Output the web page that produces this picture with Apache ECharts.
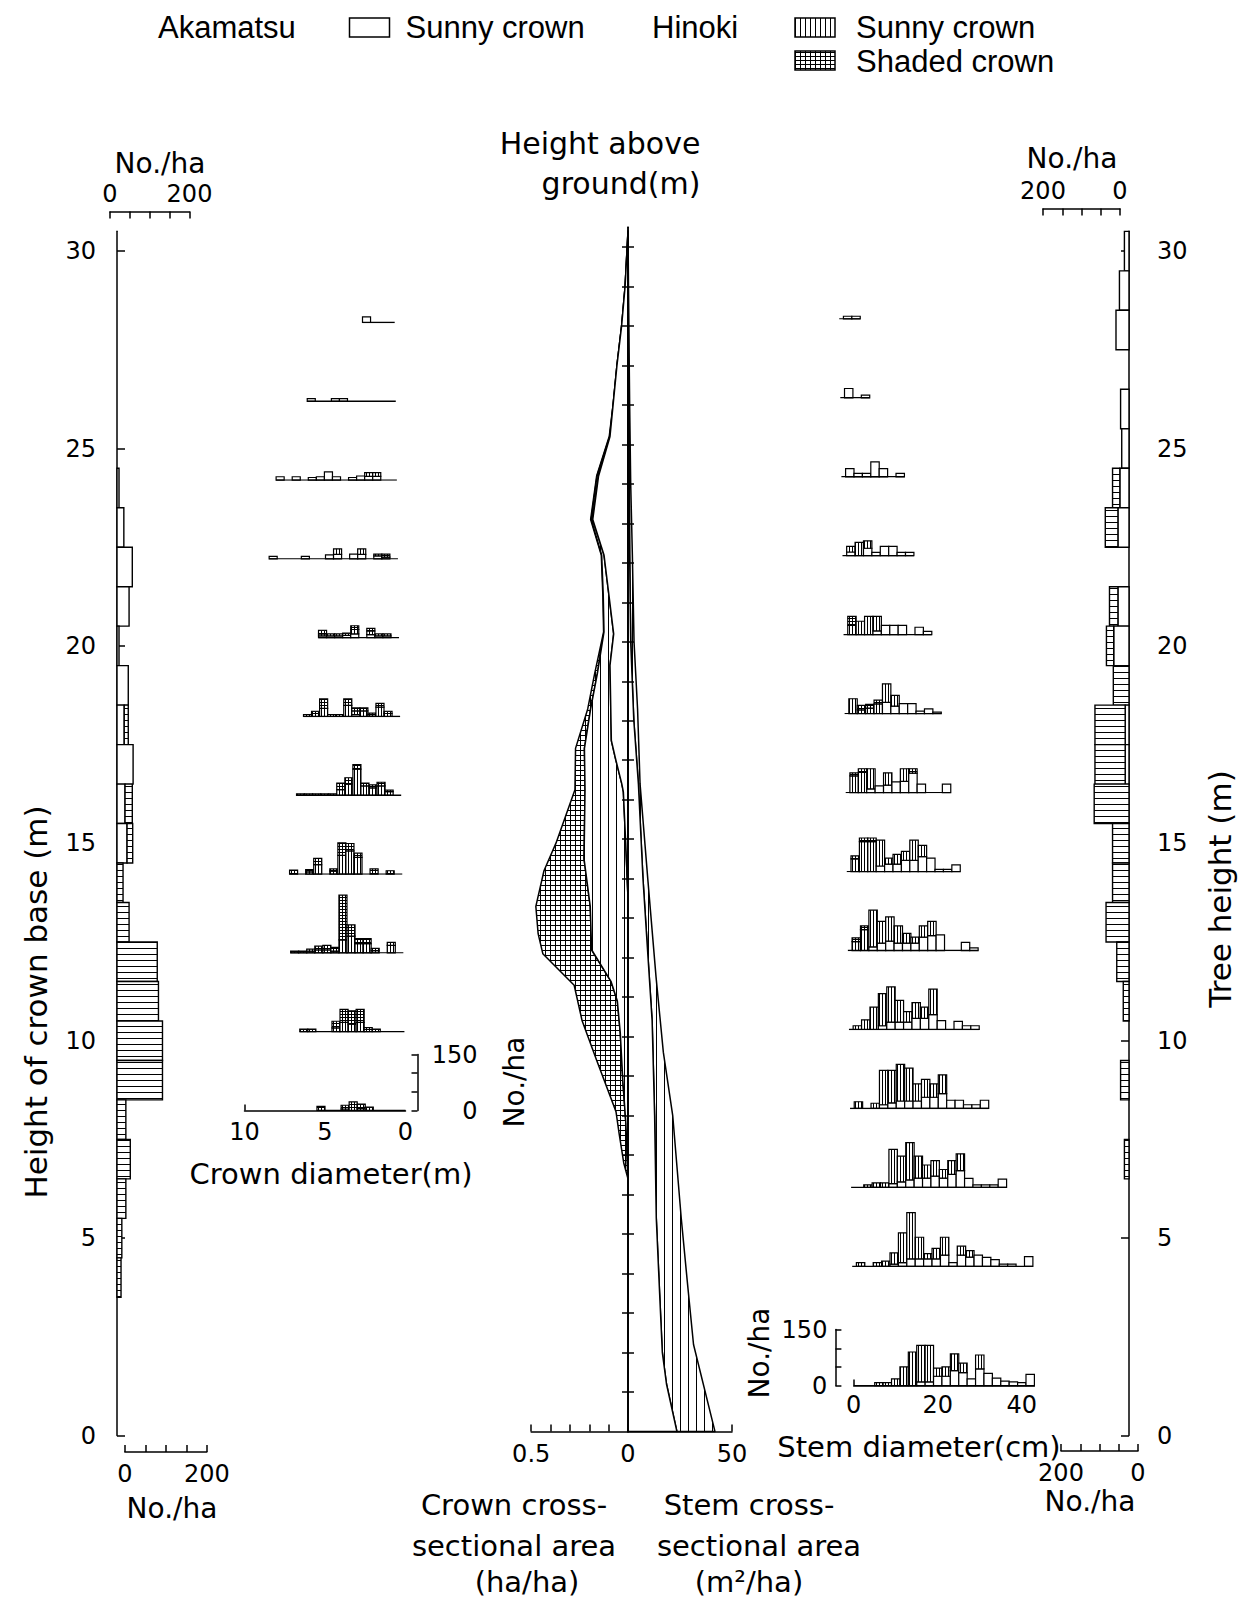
<!DOCTYPE html>
<html><head><meta charset="utf-8">
<script src="https://cdn.jsdelivr.net/npm/echarts@6/dist/echarts.min.js"></script>
<style>html,body{margin:0;padding:0;background:#fff}#c{width:1248px;height:1598px}</style>
</head><body><div id="c"></div>
<script>
// ================= DATA =================
// Left panel: height of crown base (1 m classes), No./ha
const crownBaseHeight   = [24,23,22,21,20,19,18,17,16,15,14,13,12,11,10,9,8,7,6,5,4];
const crownBaseAkamatsu = [5,17,38,30,5,28,18,40,20,25,0,0,0,0,0,0,0,0,0,0,0];
const crownBaseHinoki   = [0,0,0,0,0,0,10,0,18,14,15,30,100,103,113,113,22,33,22,12,10];

// Right panel: tree height (1 m classes), No./ha
const treeHeight         = [30,29,28,27,26,25,24,23,22,21,20,19,18,17,16,15,14,13,12,11,10,9,8,7];
const treeHeightAkamatsu = [12,25,34,0,22,19,24,29,0,29,40,0,10,10,0,0,0,0,0,0,0,0,0,0];
const treeHeightHinoki   = [0,0,0,0,0,0,19,33,0,22,19,41,79,79,91,43,43,60,32,15,0,22,0,12];

// Crown diameter distributions at each height level: [diameter class (m), Akamatsu, Hinoki sunny, Hinoki shaded] No./ha
const crownLevels = [28,26,24,22,20,18,16,14,12,10,8];
const crownDiam28 = [[1.75,15,0,0]];
const crownDiam26 = [[5.25,7,0,0],[3.75,7,0,0],[3.25,7,0,0]];
const crownDiam24 = [[7.25,9,0,0],[6.25,9,0,0],[5.25,7,0,0],[4.75,9,0,0],[4.25,22,0,0],[3.75,9,0,0],[2.75,7,0,0],[2.25,11,0,0],[1.75,10,10,0],[1.25,10,10,0]];
const crownDiam22 = [[7.75,7,0,0],[5.75,7,0,0],[4.25,11,0,0],[3.75,12,15,0],[2.75,13,0,0],[2.25,12,15,0],[1.25,8,5,0],[0.75,5,0,8]];
const crownDiam20 = [[4.75,5,5,10],[4.25,5,0,5],[3.75,5,0,5],[3.25,6,0,6],[2.75,10,12,10],[1.75,8,10,7],[1.25,5,0,5],[0.75,5,0,5]];
const crownDiam18 = [[5.75,0,0,5],[5.25,0,8,6],[4.75,0,22,25],[4.25,0,0,5],[3.75,0,0,5],[3.25,0,30,17],[2.75,5,10,8],[2.25,0,15,8],[1.75,0,5,4],[1.25,0,25,10],[0.75,0,8,6]];
const crownDiam16 = [[6.25,0,0,4],[5.75,0,0,4],[5.25,0,0,4],[4.75,0,0,4],[4.25,0,0,4],[3.75,0,15,18],[3.25,0,30,17],[2.75,0,70,12],[2.25,0,25,8],[1.75,0,20,8],[1.25,0,25,10],[0.75,0,10,4]];
const crownDiam14 = [[6.75,0,0,11],[5.75,0,6,6],[5.25,0,25,17],[4.25,0,8,6],[3.75,0,50,34],[3.25,0,62,20],[2.75,0,45,11],[1.75,0,0,14],[0.75,0,0,9]];
const crownDiam12 = [[6.75,0,0,5],[6.25,0,0,5],[5.75,0,5,5],[5.25,0,8,10],[4.75,0,8,12],[4.25,0,5,10],[3.75,0,35,120],[3.25,0,45,30],[2.75,0,25,13],[2.25,0,25,13],[1.75,0,6,6],[0.75,0,20,8]];
const crownDiam10 = [[6.25,0,0,7],[5.75,0,0,7],[4.25,0,10,18],[3.75,0,25,35],[3.25,0,20,36],[2.75,0,25,35],[2.25,0,0,11],[1.75,0,0,7]];
const crownDiam8  = [[5.25,0,0,11],[3.75,0,4,10],[3.25,0,8,15],[2.75,0,5,12],[2.25,0,0,9]];
const crownDiamTicks = [0,5,10];

// Stem diameter distributions at each height level: [diameter class (cm), Akamatsu, Hinoki sunny, Hinoki shaded] No./ha
const stemLevels = [28,26,24,22,20,18,16,14,12,10,8,6,4,1.2];
const stemDiam28 = [[2,7,0,0],[4,7,0,0]];
const stemDiam26 = [[2,25,0,0],[6,7,0,0]];
const stemDiam24 = [[2,22,0,0],[4,9,0,0],[6,9,0,0],[8,40,0,0],[10,22,0,0],[14,9,0,0]];
const stemDiam22 = [[2,10,15,0],[4,0,36,0],[6,20,20,0],[8,9,0,0],[10,25,0,0],[12,25,0,0],[14,9,0,0],[16,9,0,0]];
const stemDiam20 = [[2,0,25,24],[4,0,36,0],[6,0,49,0],[8,10,39,0],[10,25,0,0],[12,25,0,0],[14,25,0,0],[18,20,0,0],[20,9,0,0]];
const stemDiam18 = [[2,0,40,0],[4,0,10,12],[6,0,15,10],[8,0,26,10],[10,30,50,0],[12,20,29,0],[14,27,0,0],[16,27,0,0],[18,7,0,0],[20,13,0,0],[22,4,0,0]];
const stemDiam16 = [[2,0,45,8],[4,0,54,10],[6,10,54,0],[8,18,0,0],[10,20,33,0],[12,29,0,0],[14,30,34,0],[16,52,0,12],[18,23,0,0],[24,23,0,0]];
const stemDiam14 = [[2,0,34,8],[4,0,80,10],[6,0,80,10],[8,15,69,0],[10,20,16,0],[12,20,26,0],[14,30,24,0],[16,30,54,0],[18,40,30,0],[20,36,0,0],[22,6,0,0],[24,6,0,0],[26,18,0,0]];
const stemDiam12 = [[2,0,24,10],[4,0,56,10],[6,10,98,0],[8,20,58,0],[10,25,65,0],[12,20,46,0],[14,20,26,0],[16,20,16,0],[18,36,30,0],[20,40,38,0],[22,42,0,0],[28,22,0,0],[30,7,0,0]];
const stemDiam10 = [[2,0,10,0],[4,0,26,0],[6,0,60,0],[8,10,86,0],[10,20,94,0],[12,20,58,0],[14,20,28,0],[16,30,42,0],[18,30,30,0],[20,40,68,0],[22,24,0,0],[26,22,0,0],[28,10,0,0],[30,10,0,0]];
const stemDiam8  = [[2,0,18,0],[6,0,14,0],[8,10,92,0],[10,15,87,0],[12,20,98,0],[14,20,88,0],[16,20,46,0],[18,30,48,0],[20,30,36,0],[22,40,50,0],[24,22,0,0],[26,22,0,0],[28,10,0,0],[30,10,0,0],[32,22,0,0]];
const stemDiam6  = [[4,0,7,0],[6,0,12,0],[8,0,12,0],[10,10,92,0],[12,15,69,0],[14,20,100,0],[16,25,59,0],[18,25,35,0],[20,30,42,0],[22,25,23,0],[24,35,37,0],[26,45,45,0],[28,24,0,0],[30,7,0,0],[32,7,0,0],[34,7,0,0],[36,22,0,0]];
const stemDiam4  = [[2,0,10,0],[6,0,10,0],[8,0,14,0],[10,6,30,0],[12,10,80,0],[14,20,124,0],[16,20,58,0],[18,20,14,0],[20,20,28,0],[22,30,48,0],[24,10,0,0],[26,30,24,0],[28,25,17,0],[30,30,0,0],[32,24,0,0],[34,18,0,0],[36,6,0,0],[38,6,0,0],[42,26,0,0]];
const stemDiam1_2= [[6,0,8,0],[8,0,8,0],[10,0,18,0],[12,0,50,0],[14,0,90,0],[16,10,98,0],[18,10,98,0],[20,25,22,0],[22,25,25,0],[24,40,45,0],[26,35,25,0],[28,18,0,0],[30,45,37,0],[32,33,0,0],[34,20,0,0],[36,12,0,0],[38,10,0,0],[40,8,0,0],[42,30,0,0]];
const stemDiamTicks = [0,20,40];

// Centre: cumulative crown cross-sectional area (ha/ha) vs height [height m, value]
const crownAreaAkamatsu = [[30.4,0],[29,0.015],[28,0.033],[27,0.057],[26,0.077],[25.2,0.093],[24.2,0.152],[23.1,0.182],[22.2,0.124],[20.2,0.074],[19.4,0.093],[17.5,0.086],[17.05,0.065],[16.4,0.032],[16.2,0.024],[14.7,0.01],[13.5,0]];
const crownAreaToSunny  = [[30.4,0],[29,0.015],[28,0.033],[27,0.057],[26,0.077],[25.2,0.095],[24.2,0.16],[23.1,0.19],[22.2,0.136],[21.2,0.128],[20.25,0.124],[19.2,0.158],[18.3,0.193],[17.3,0.225],[16.25,0.222],[14.5,0.227],[13.3,0.195],[12.2,0.188],[11.4,0.088],[10.9,0.055],[10.1,0.04],[8.9,0.027],[7.8,0.011],[6.4,0]];
const crownAreaTotal    = [[30.4,0],[29,0.015],[28,0.033],[27,0.057],[26,0.077],[25.2,0.097],[24.2,0.162],[23.1,0.193],[22.2,0.138],[21.2,0.13],[20.25,0.126],[19.2,0.172],[18.3,0.208],[17.3,0.271],[16.25,0.274],[14.9,0.372],[14.2,0.434],[13.3,0.476],[12.6,0.464],[12.1,0.44],[11.3,0.278],[10.4,0.237],[9.4,0.162],[8.1,0.062],[7.55,0.046],[6.8,0.022],[6.4,0]];
// Centre: cumulative stem cross-sectional area (m2/ha) vs height
const stemAreaAkamatsu = [[30.4,0],[28,0.2],[26,0.4],[24,0.6],[22.2,0.8],[20,1.3],[18,2.8],[16.4,5.0],[14,7.2],[12.6,8.9],[10.4,11.6],[8,12.8],[5.4,13.6],[3.5,15.2],[2,16.5],[1.2,18.5],[0,23.5]];
const stemAreaTotal    = [[30.4,0],[28,0.4],[26,0.8],[24,1.3],[22.2,2.1],[20,2.9],[18.3,4.6],[16.4,5.8],[14,9.5],[11.5,13.5],[9.6,17],[8,21.5],[5.4,25.6],[3.8,28.5],[2.2,31.5],[0,41.8]];

const heightTicks = [0,5,10,15,20,25,30];
const countTicks = [0,50,100,150,200];

// ================= STYLE / LAYOUT =================
function pat(w, h, draw) {
  const c = document.createElement('canvas'); c.width = w; c.height = h;
  const x = c.getContext('2d'); x.fillStyle = '#fff'; x.fillRect(0, 0, w, h); x.fillStyle = '#000'; draw(x, w, h);
  return {image: c.toDataURL('image/png'), repeat: 'repeat', imageWidth: w, imageHeight: h};
}
const P = {
  vHist: pat(3, 3, (x, w, h) => x.fillRect(0, 0, 1, h)),
  gHist: pat(3, 3, (x, w, h) => { x.fillRect(0, 0, 1, h); x.fillRect(0, 0, w, 1); }),
  hSide: pat(6, 6, (x, w, h) => x.fillRect(0, 0, w, 1)),
  vCenter: pat(8, 8, (x, w, h) => x.fillRect(0, 0, 1, h)),
  gCenter: pat(5, 5, (x, w, h) => { x.fillRect(0, 0, 1, h); x.fillRect(0, 0, w, 1); }),
  vLegend: pat(5, 5, (x, w, h) => x.fillRect(0, 0, 1, h)),
  gLegend: pat(5, 4, (x, w, h) => { x.fillRect(0, 0, 1, h); x.fillRect(0, 0, w, 1); })
};
const FONT = "'DejaVu Sans'";
const LS = {color: '#000', width: 1.5};
const LBL = {color: '#000', fontFamily: 'DejaVu Sans', fontSize: 24};
const PXM = 39.48, Y0 = 1435.5, HMAX = 30.5;
const MAIN_H = HMAX * PXM, MAIN_TOP = Y0 - MAIN_H;

const grids = [], xAxes = [], yAxes = [], series = [];
function addGrid(rect, xa, ya) {
  const i = grids.length;
  grids.push(rect);
  xAxes.push(Object.assign({type: 'value', gridIndex: i, splitLine: {show: false}}, xa));
  yAxes.push(Object.assign({type: 'value', gridIndex: i, splitLine: {show: false}}, ya));
  return i;
}
function axLine() { return {show: true, onZero: false, lineStyle: LS}; }
function ticks(vals, len) { return {show: true, inside: true, length: len, lineStyle: LS, customValues: vals}; }
function labels(vals, margin, extra) { return Object.assign({show: true, margin: margin, customValues: vals}, LBL, extra || {}); }

// ---- side panels ----
function sideRender(hatch) {
  return function (params, api) {
    const h = api.value(0), a = api.value(1), n = api.value(2);
    const yT = api.coord([0, h + 0.5])[1], yB = api.coord([0, h - 0.5])[1];
    const x0 = api.coord([0, h])[0], xa = api.coord([a, h])[0], xn = api.coord([a + n, h])[0];
    const ch = [];
    if (a > 0) ch.push({type: 'rect', shape: {x: Math.min(x0, xa), y: yT, width: Math.abs(xa - x0), height: yB - yT}, style: {fill: '#fff', stroke: '#000', lineWidth: 1.4}});
    if (n > 0) ch.push({type: 'rect', shape: {x: Math.min(xa, xn), y: yT, width: Math.abs(xn - xa), height: yB - yT}, style: {fill: hatch, stroke: '#000', lineWidth: 1.4}});
    return {type: 'group', children: ch};
  };
}
const gL = addGrid({left: 117, top: MAIN_TOP, width: 80.5, height: MAIN_H},
  {min: 0, max: 200, show: false},
  {min: 0, max: HMAX, position: 'left', axisLine: axLine(), axisTick: ticks(heightTicks, 8), axisLabel: labels(heightTicks, 21)});
addGrid({left: 110, top: 211.5, width: 79.5, height: 1},
  {min: 0, max: 200, position: 'top', axisLine: axLine(), axisTick: ticks(countTicks, 7), axisLabel: labels([0, 200], 6)},
  {min: 0, max: 1, show: false});
addGrid({left: 124.8, top: 1451, width: 82, height: 1},
  {min: 0, max: 200, position: 'bottom', axisLine: axLine(), axisTick: ticks(countTicks, 7), axisLabel: labels([0, 200], 10)},
  {min: 0, max: 1, show: false});
series.push({type: 'custom', xAxisIndex: gL, yAxisIndex: gL, renderItem: sideRender(P.hSide), silent: true,
  data: crownBaseHeight.map((h, i) => [h, crownBaseAkamatsu[i], crownBaseHinoki[i]])});

const gR = addGrid({left: 1052.5, top: MAIN_TOP, width: 76.5, height: MAIN_H},
  {min: 0, max: 200, inverse: true, show: false},
  {min: 0, max: HMAX, position: 'right', axisLine: axLine(), axisTick: ticks(heightTicks, 8), axisLabel: labels(heightTicks, 28)});
addGrid({left: 1043, top: 208.5, width: 77, height: 1},
  {min: 0, max: 200, inverse: true, position: 'top', axisLine: axLine(), axisTick: ticks(countTicks, 7), axisLabel: labels([0, 200], 6)},
  {min: 0, max: 1, show: false});
addGrid({left: 1061, top: 1450, width: 77, height: 1},
  {min: 0, max: 200, inverse: true, position: 'bottom', axisLine: axLine(), axisTick: ticks(countTicks, 7), axisLabel: labels([0, 200], 10)},
  {min: 0, max: 1, show: false});
series.push({type: 'custom', xAxisIndex: gR, yAxisIndex: gR, renderItem: sideRender(P.hSide), silent: true,
  data: treeHeight.map((h, i) => [h, treeHeightAkamatsu[i], treeHeightHinoki[i]])});

// ---- small histograms ----
function histRender(half) {
  const fills = ['#fff', P.vHist, P.gHist];
  return function (params, api) {
    const d = api.value(0);
    const xa = api.coord([d - half, 0])[0], xb = api.coord([d + half, 0])[0];
    const x = Math.min(xa, xb), w = Math.abs(xb - xa);
    const ch = [];
    let cum = 0;
    for (let k = 0; k < 3; k++) {
      const v = api.value(k + 1);
      if (!(v > 0)) continue;
      const y1 = api.coord([d, cum + v])[1], y0 = api.coord([d, cum])[1];
      ch.push({type: 'rect', shape: {x: x, y: y1, width: w, height: y0 - y1}, style: {fill: fills[k], stroke: '#000', lineWidth: 1.2}});
      cum += v;
    }
    return {type: 'group', children: ch};
  };
}
function addHist(g, data, half) {
  const ext = Math.max.apply(null, data.map(r => r[0])) + half;
  series.push({type: 'line', xAxisIndex: g, yAxisIndex: g, data: [[0, 0], [ext, 0]], symbol: 'none', silent: true, lineStyle: {color: '#000', width: 1.4}});
  series.push({type: 'custom', xAxisIndex: g, yAxisIndex: g, renderItem: histRender(half), data: data, silent: true});
}
const crownData = [crownDiam28, crownDiam26, crownDiam24, crownDiam22, crownDiam20, crownDiam18, crownDiam16, crownDiam14, crownDiam12, crownDiam10, crownDiam8];
crownLevels.forEach((h, k) => {
  const base = 1425.7 - h * 39.4, x0 = 405.5 - 0.54 * (h - 8);
  const last = k === crownLevels.length - 1;
  const g = addGrid({left: x0 - 161, top: base - 56, width: 161, height: 56},
    last ? {min: 0, max: 10, inverse: true, position: 'bottom', axisLine: axLine(), axisTick: ticks([10], 6), axisLabel: labels(crownDiamTicks, 9)}
         : {min: 0, max: 10, inverse: true, show: false},
    last ? {min: 0, max: 150, position: 'right', offset: 12, axisLine: axLine(), axisTick: ticks([0, 50, 100, 150], 6), axisLabel: labels([0, 150], 60, {align: 'right'})}
         : {min: 0, max: 150, show: false});
  addHist(g, crownData[k], 0.25);
});
const stemData = [stemDiam28, stemDiam26, stemDiam24, stemDiam22, stemDiam20, stemDiam18, stemDiam16, stemDiam14, stemDiam12, stemDiam10, stemDiam8, stemDiam6, stemDiam4, stemDiam1_2];
stemLevels.forEach((h, k) => {
  const base = h < 2 ? 1385.6 : 1424.3 - h * 39.48, x0 = 853.7 - 0.54 * (h - 1.2);
  const last = k === stemLevels.length - 1;
  const g = addGrid({left: x0, top: base - 56, width: 180.7, height: 56},
    last ? {min: 0, max: 43, position: 'bottom', axisLine: axLine(), axisTick: ticks([0], 6), axisLabel: labels(stemDiamTicks, 7)}
         : {min: 0, max: 43, show: false},
    last ? {min: 0, max: 150, position: 'left', offset: 18.3, axisLine: axLine(), axisTick: ticks([0, 50, 100, 150], 6), axisLabel: labels([0, 150], 8)}
         : {min: 0, max: 150, show: false});
  addHist(g, stemData[k], 1);
});

// ---- centre panel ----
const centerTicks = Array.from({length: 30}, (_, i) => i + 1);
const AXIS_X = 628, C_TOP = 1431.4 - MAIN_H;
const gCL = addGrid({left: AXIS_X - 96.8, top: C_TOP, width: 96.8, height: MAIN_H},
  {min: 0, max: 0.5, inverse: true, position: 'bottom', axisLine: axLine(), axisTick: ticks([0, 0.1, 0.2, 0.3, 0.4, 0.5], 7), axisLabel: labels([0, 0.5], 11)},
  {min: 0, max: HMAX, position: 'right', z: 10, axisLine: axLine(), axisTick: ticks(centerTicks, 6), axisLabel: {show: false}});
const gCR = addGrid({left: AXIS_X, top: C_TOP, width: 104, height: MAIN_H},
  {min: 0, max: 50, position: 'bottom', axisLine: axLine(), axisTick: ticks([0, 10, 20, 30, 40, 50], 7), axisLabel: labels([50], 11)},
  {min: 0, max: HMAX, position: 'left', z: 10, axisLine: axLine(), axisTick: ticks(centerTicks, 6), axisLabel: {show: false}});
function axisOf(curve) { return [[curve[0][0], 0], [curve[curve.length - 1][0], 0]]; }
function polyRender(outer, inner, fill) {
  return function (params, api) {
    const pts = outer.map(p => api.coord([p[1], p[0]]));
    inner.slice().reverse().forEach(p => pts.push(api.coord([p[1], p[0]])));
    return {type: 'polygon', shape: {points: pts}, style: {fill: fill, stroke: '#000', lineWidth: 1.5, lineJoin: 'round'}};
  };
}
function addPoly(g, outer, inner, fill) {
  series.push({type: 'custom', xAxisIndex: g, yAxisIndex: g, silent: true, data: [[0, 0]], renderItem: polyRender(outer, inner, fill)});
}
addPoly(gCL, crownAreaTotal, crownAreaToSunny, P.gCenter);
addPoly(gCL, crownAreaToSunny, crownAreaAkamatsu, P.vCenter);
addPoly(gCL, crownAreaAkamatsu, axisOf(crownAreaAkamatsu), '#fff');
addPoly(gCR, stemAreaTotal, stemAreaAkamatsu, P.vCenter);
addPoly(gCR, stemAreaAkamatsu, axisOf(stemAreaAkamatsu), '#fff');

// ---- texts ----
function T(text, x, y, size, o) {
  o = o || {};
  const al = o.align || 'center';
  return {type: 'text', x: x, y: y, rotation: o.rot || 0, silent: true,
    style: {text: text, x: 0, y: 0, fill: '#000', font: size + 'px ' + (o.family || FONT), textAlign: al, align: al, textVerticalAlign: 'middle', verticalAlign: 'middle'}};
}
const LEG = "'Liberation Sans'";
const R = (x, y, w, h, fill) => ({type: 'rect', silent: true, shape: {x: x, y: y, width: w, height: h}, style: {fill: fill, stroke: '#000', lineWidth: 1.5}});
const graphics = [
  T('Akamatsu', 158, 27, 31, {align: 'left', family: LEG}),
  R(349.5, 18, 40, 19, '#fff'),
  T('Sunny crown', 405.5, 27, 31, {align: 'left', family: LEG}),
  T('Hinoki', 652, 27, 31, {align: 'left', family: LEG}),
  R(795, 18, 40, 19, P.vLegend),
  T('Sunny crown', 856, 27, 31, {align: 'left', family: LEG}),
  R(795, 51, 40, 19, P.gLegend),
  T('Shaded crown', 856, 61, 31, {align: 'left', family: LEG}),
  T('No./ha', 160, 163, 28),
  T('No./ha', 1072, 158, 28),
  T('No./ha', 172, 1508, 28),
  T('No./ha', 1090, 1501, 28),
  T('Height above', 600, 143, 30),
  T('ground(m)', 621, 183, 30),
  T('Height of crown base (m)', 36, 1002, 31, {rot: Math.PI / 2}),
  T('Tree height (m)', 1220, 889, 31, {rot: Math.PI / 2}),
  T('Crown diameter(m)', 331, 1174, 29),
  T('No./ha', 514, 1082, 28, {rot: Math.PI / 2}),
  T('Stem diameter(cm)', 919, 1447, 29),
  T('No./ha', 759, 1353, 28, {rot: Math.PI / 2}),
  T('Crown cross-', 514, 1505, 29),
  T('sectional area', 514, 1546, 29),
  T('(ha/ha)', 527, 1582, 29),
  T('Stem cross-', 749, 1505, 29),
  T('sectional area', 759, 1546, 29),
  T('(m²/ha)', 749, 1582, 29)
];

const chart = echarts.init(document.getElementById('c'), null, {renderer: 'svg', width: 1248, height: 1598});
chart.setOption({
  animation: false,
  backgroundColor: '#fff',
  grid: grids, xAxis: xAxes, yAxis: yAxes, series: series,
  graphic: {elements: graphics}
});
</script></body></html>
